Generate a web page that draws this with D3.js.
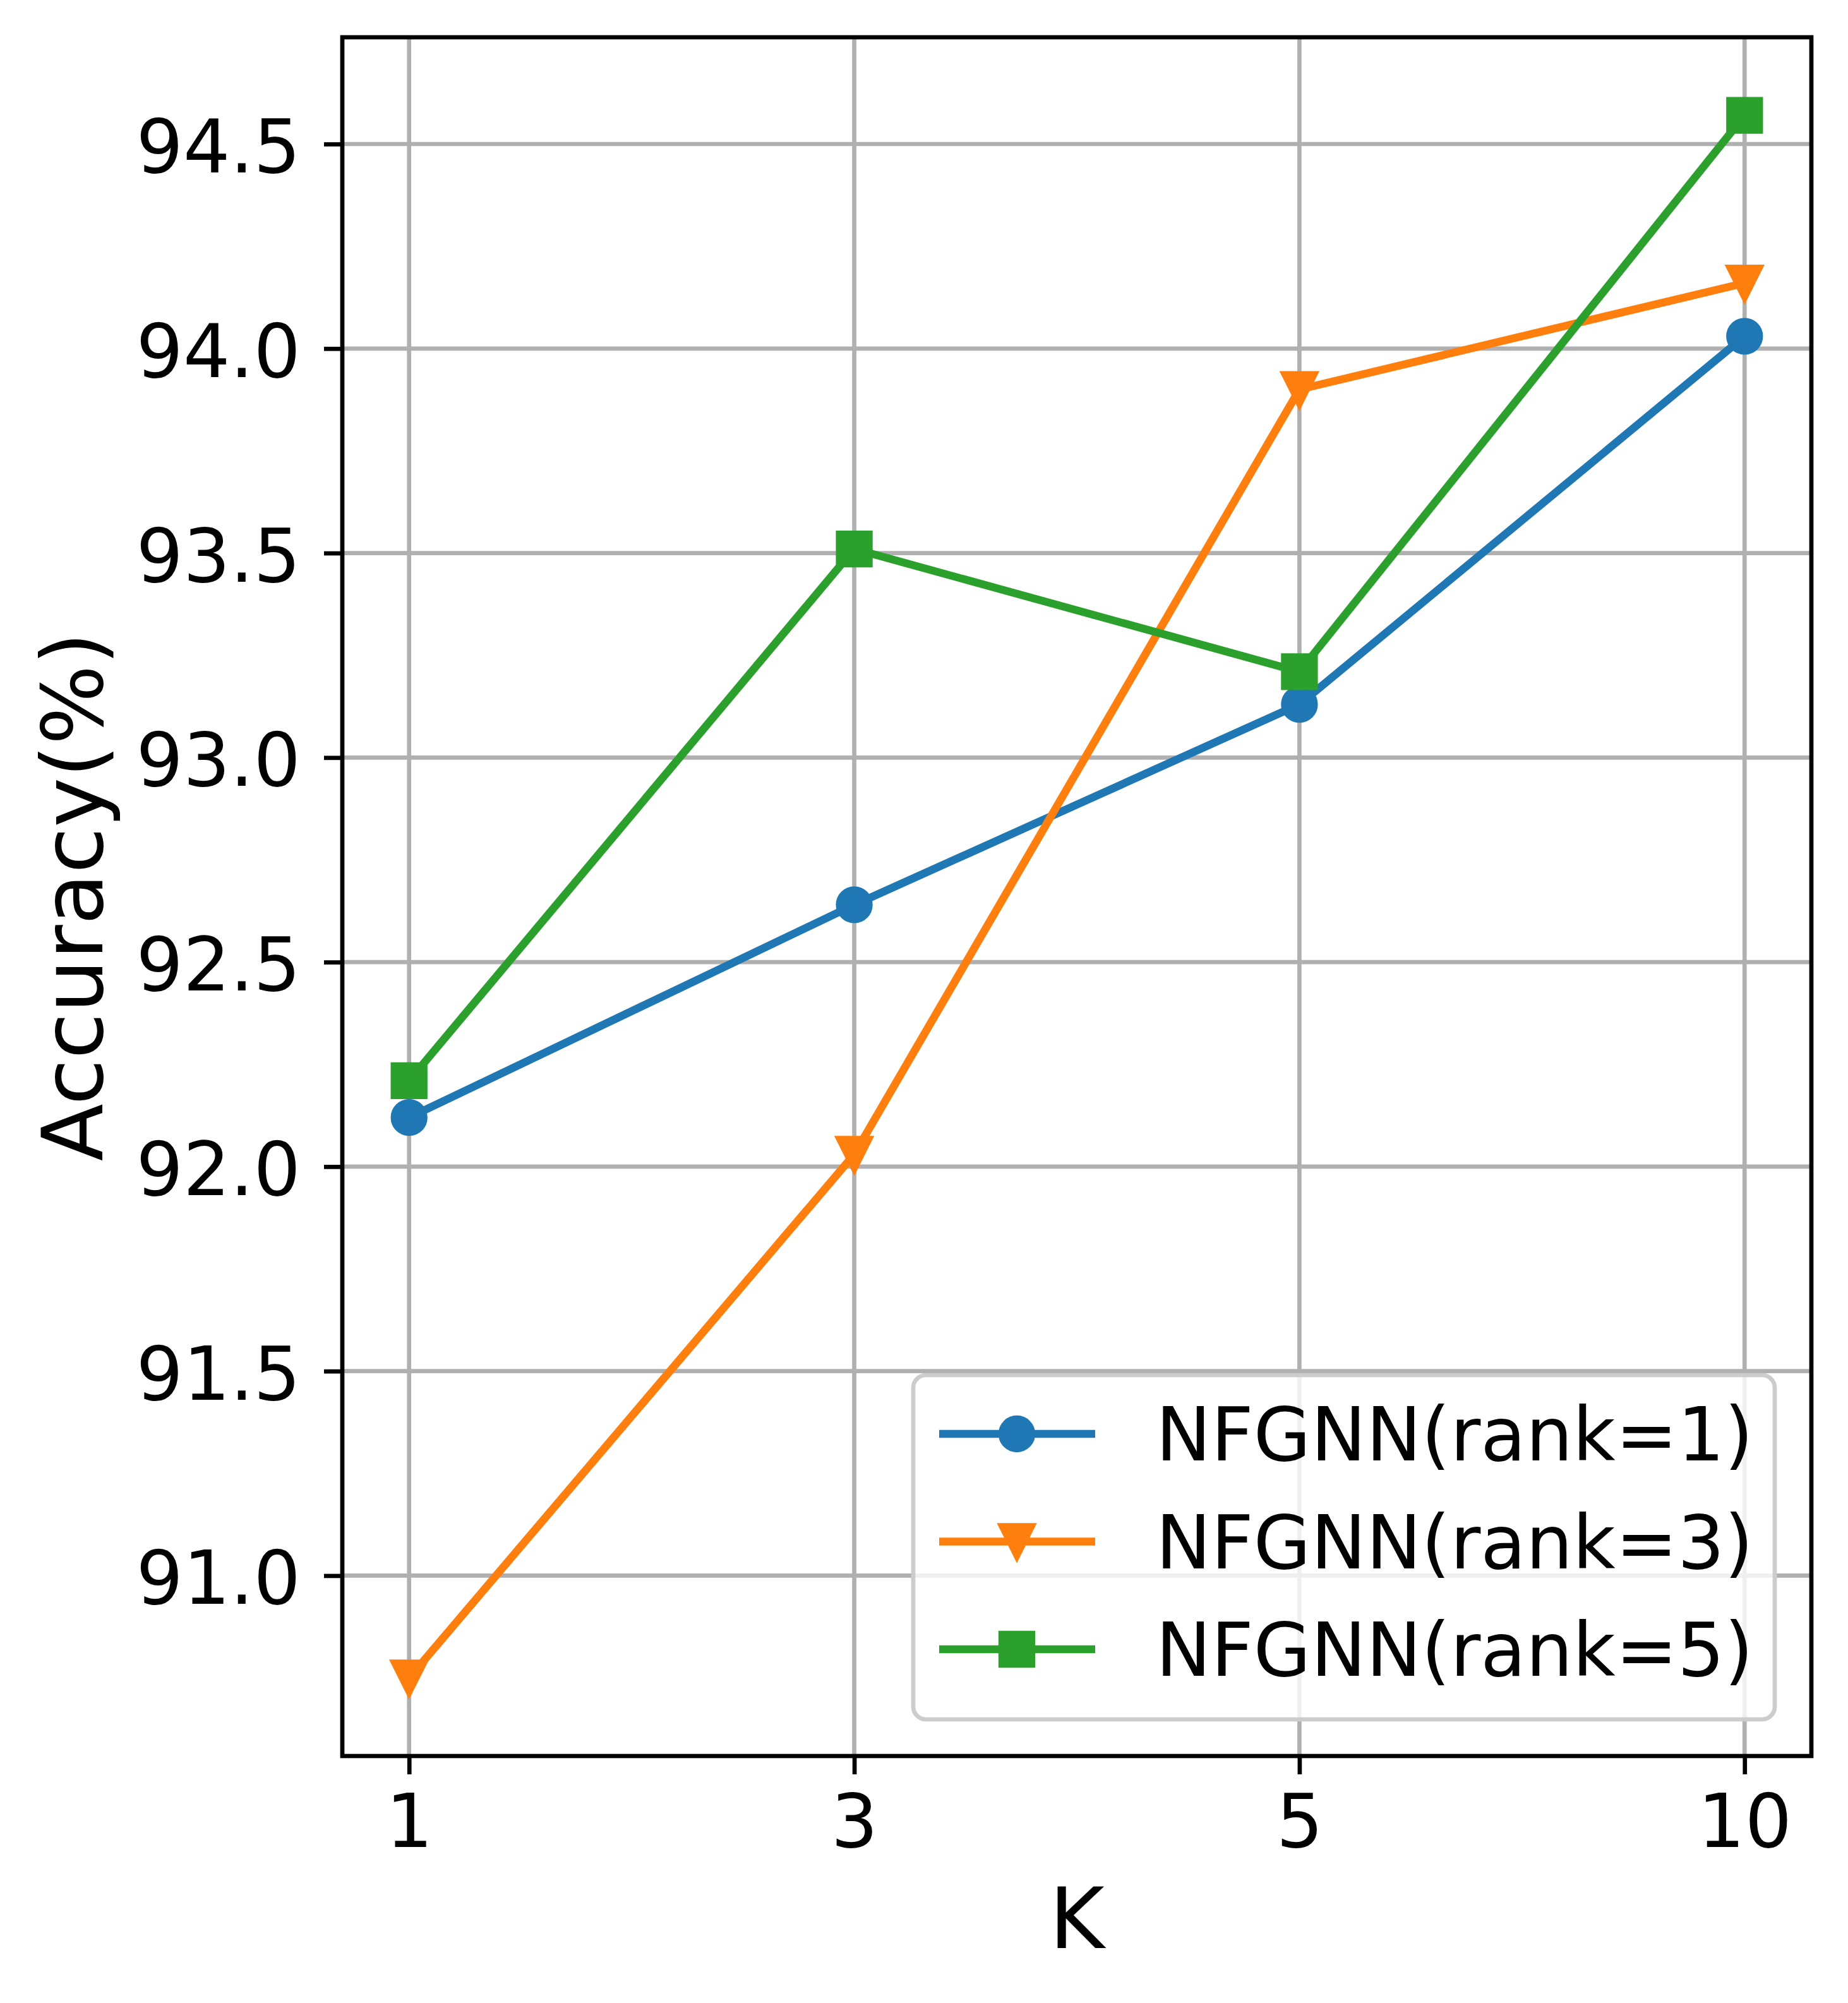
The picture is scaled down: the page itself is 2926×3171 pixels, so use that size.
<!DOCTYPE html>
<html>
<head>
<meta charset="utf-8">
<script src="https://cdn.jsdelivr.net/npm/d3@7"></script>
<style>
  body { margin: 0; background: #fff; }
  text { font-family: "DejaVu Sans", sans-serif; fill: #000; }
</style>
</head>
<body>
<div id="chart"></div>
<script>
// values
var kLabels = ["1", "3", "5", "10"];
var rank1 = [92.12, 92.64, 93.13, 94.03];
var rank3 = [90.75, 92.03, 93.90, 94.16];
var rank5 = [92.21, 93.51, 93.21, 94.57];
var seriesNames = ["NFGNN(rank=1)", "NFGNN(rank=3)", "NFGNN(rank=5)"];
var seriesColors = ["#1f77b4", "#ff7f0e", "#2ca02c"];
var seriesMarkers = ["circle", "triangleDown", "square"];
var yTicks = [91.0, 91.5, 92.0, 92.5, 93.0, 93.5, 94.0, 94.5];

var W = 2926, H = 3171;
// note: "top" is taken by window.top, so plot edges get a prefix
var plotL = 542, plotR = 2868, plotT = 59, plotB = 2780;

var series = [rank1, rank3, rank5].map(function(vals, i){
    return { name: seriesNames[i], color: seriesColors[i], marker: seriesMarkers[i], values: vals };
});

// matplotlib style 5% margins
var all = d3.merge([rank1, rank3, rank5]);
var lo = d3.min(all), hi = d3.max(all), pad = (hi - lo) * 0.05;

var x = d3.scalePoint()
    .domain(kLabels)
    .range([plotL, plotR])
    .padding(0.15);

var y = d3.scaleLinear()
    .domain([lo - pad, hi + pad])
    .range([plotB, plotT]);

var svg = d3.select("#chart").append("svg")
    .attr("width", W)
    .attr("height", H);

svg.append("rect").attr("width", W).attr("height", H).attr("fill", "#fff");

// grid
var grid = svg.append("g");
grid.selectAll("line.gy")
    .data(yTicks)
    .enter()
    .append("line")
    .attr("x1", plotL).attr("x2", plotR)
    .attr("y1", function(d){ return y(d); })
    .attr("y2", function(d){ return y(d); })
    .attr("stroke", "#b0b0b0")
    .attr("stroke-width", 6.7);
grid.selectAll("line.gx")
    .data(kLabels)
    .enter()
    .append("line")
    .attr("y1", plotT).attr("y2", plotB)
    .attr("x1", function(d){ return x(d); })
    .attr("x2", function(d){ return x(d); })
    .attr("stroke", "#b0b0b0")
    .attr("stroke-width", 6.7);

function markerPath(type){
    var r = 25;
    if (type == "circle") return d3.arc()({innerRadius: 0, outerRadius: r, startAngle: 0, endAngle: 2 * Math.PI});
    if (type == "square") return "M" + (-r) + "," + (-r) + "H" + r + "V" + r + "H" + (-r) + "Z";
    return "M0," + r + "L" + (-r) + "," + (-r) + "L" + r + "," + (-r) + "Z";
}

var line = d3.line()
    .x(function(d, i){ return x(kLabels[i]); })
    .y(function(d){ return y(d); });

var plot = svg.append("g");
series.forEach(function(s){
    plot.append("path")
        .attr("d", line(s.values))
        .attr("fill", "none")
        .attr("stroke", s.color)
        .attr("stroke-width", 12.5)
        .attr("stroke-linejoin", "round")
        .attr("stroke-linecap", "square");
    plot.selectAll(null)
        .data(s.values)
        .enter()
        .append("path")
        .attr("d", markerPath(s.marker))
        .attr("transform", function(d, i){ return "translate(" + x(kLabels[i]) + "," + y(d) + ")"; })
        .attr("fill", s.color)
        .attr("stroke", s.color)
        .attr("stroke-width", 8.3)
        .attr("stroke-linejoin", "miter");
});

// axes
var yAxis = svg.append("g")
    .attr("transform", "translate(" + plotL + ",0)")
    .call(d3.axisLeft(y).tickValues(yTicks).tickFormat(d3.format(".1f")).tickSize(29).tickPadding(37));
var xAxis = svg.append("g")
    .attr("transform", "translate(0," + plotB + ")")
    .call(d3.axisBottom(x).tickSize(29).tickPadding(32));

[yAxis, xAxis].forEach(function(a){
    a.select(".domain").remove();
    a.selectAll(".tick line").attr("stroke", "#000").attr("stroke-width", 6.7);
    a.selectAll(".tick text")
        .attr("font-family", "DejaVu Sans")
        .attr("font-size", 117)
        .attr("fill", "#000");
});
yAxis.selectAll(".tick text").attr("dy", "0.38em");

// spines
svg.append("rect")
    .attr("x", plotL).attr("y", plotT)
    .attr("width", plotR - plotL).attr("height", plotB - plotT)
    .attr("fill", "none")
    .attr("stroke", "#000")
    .attr("stroke-width", 6.7)
    .attr("stroke-linecap", "square");

// axis labels
svg.append("text")
    .attr("x", (plotL + plotR) / 2)
    .attr("y", 3084)
    .attr("text-anchor", "middle")
    .attr("font-size", 133)
    .text("K");
svg.append("text")
    .attr("transform", "translate(162," + ((plotT + plotB) / 2) + ") rotate(-90)")
    .attr("text-anchor", "middle")
    .attr("font-size", 133)
    .text("Accuracy(%)");

// legend, lower right
var lgW = 1364, lgH = 545;
var lgX = plotR - 58 - lgW, lgY = plotB - 58 - lgH;
var legend = svg.append("g").attr("transform", "translate(" + lgX + "," + lgY + ")");
legend.append("rect")
    .attr("width", lgW).attr("height", lgH)
    .attr("rx", 20).attr("ry", 20)
    .attr("fill", "#fff").attr("fill-opacity", 0.8)
    .attr("stroke", "#cccccc").attr("stroke-width", 6.7);

var rows = legend.selectAll("g.row")
    .data(series)
    .enter()
    .append("g")
    .attr("transform", function(d, i){ return "translate(0," + (93 + i * 170.5) + ")"; });
rows.append("line")
    .attr("x1", 41).attr("x2", 288)
    .attr("stroke", function(d){ return d.color; })
    .attr("stroke-width", 12.5);
rows.append("path")
    .attr("d", function(d){ return markerPath(d.marker); })
    .attr("transform", "translate(164,0)")
    .attr("fill", function(d){ return d.color; })
    .attr("stroke", function(d){ return d.color; })
    .attr("stroke-width", 8.3);
rows.append("text")
    .attr("x", 384)
    .attr("dy", "0.36em")
    .attr("font-size", 117)
    .text(function(d){ return d.name; });
</script>
</body>
</html>
